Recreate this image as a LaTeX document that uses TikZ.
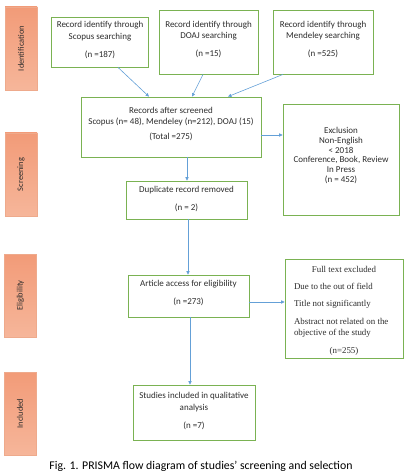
\documentclass[tikz,border=0pt]{standalone}
\usepackage{fontspec}
\setmainfont{Carlito}
\newfontfamily\tnr{Liberation Serif}
\usetikzlibrary{arrows.meta,calc}
\definecolor{boxgreen}{RGB}{122,178,82}
\definecolor{arrblue}{RGB}{100,160,215}
\definecolor{bartop}{RGB}{242,155,120}
\definecolor{barbot}{RGB}{246,182,154}
\definecolor{barline}{RGB}{238,170,140}
\definecolor{txt}{RGB}{45,45,45}
\tikzset{
  box/.style={draw=boxgreen, line width=0.8pt, fill=white, inner sep=0pt},
  btext/.style={inner sep=0pt, align=center, text=txt, font=\fontsize{9}{11.5}\selectfont},
  sidebar/.style={draw=barline, line width=0.4pt, top color=bartop, bottom color=barbot,
    minimum width=32pt, minimum height=83pt, inner sep=0pt},
  barlabel/.style={rotate=90, text=txt, font=\fontsize{8.4}{9}\selectfont},
  arr/.style={draw=arrblue, line width=0.6pt, -{Triangle[length=3.4pt,width=3.2pt]}},
}
\begin{document}
\begin{tikzpicture}[x=1pt,y=-1pt]
\useasboundingbox (0,0) rectangle (405,473);
% side bars
\node[sidebar] (b1) at (21,48.5) {};
\node[barlabel] (l1) at (b1) {Identification};
\node[sidebar] (b2) at (21,174.5) {};
\node[barlabel] (l2) at (b2) {Screening};
\node[sidebar] (b3) at (20.5,295.5) {};
\node[barlabel] (l3) at (b3) {Eligibility};
\node[sidebar] (b4) at (20,413.5) {};
\node[barlabel] (l4) at (b4) {Included};
% boxes
\node[box, minimum width=97pt, minimum height=50pt] (scopus) at (99.5,42) {};
\node[btext] (scopust) at (100,40) {Record identify through\\Scopus searching\\[6.5pt](n =187)};
\node[box, minimum width=99pt, minimum height=64pt] (doaj) at (208.5,42) {};
\node[btext] (doajt) at (208.5,39.5) {Record identify through\\DOAJ searching\\[6.5pt](n =15)};
\node[box, minimum width=100pt, minimum height=64pt] (mend) at (323,42) {};
\node[btext] (mendt) at (323,39.5) {Record identify through\\Mendeley searching\\[6.5pt](n =525)};
\node[box, minimum width=180pt, minimum height=60pt] (rec) at (171,127) {};
\node[btext, font=\fontsize{9}{11}\selectfont] (rect) at (171,124)
  {Records after screened\\Scopus (n= 48), Mendeley (n=212), DOAJ (15)\\[4pt](Total =275)};
\node[box, minimum width=116pt, minimum height=111pt] (excl) at (341,159.5) {};
\node[btext, font=\fontsize{9}{9.9}\selectfont] (exclt) at (341,155.5)
  {Exclusion\\Non-English\\< 2018\\Conference, Book, Review\\In Press\\(n = 452)};
\node[box, minimum width=121pt, minimum height=38pt] (dup) at (186.5,200) {};
\node[btext] (dupt) at (186.5,199) {Duplicate record removed\\[6.5pt](n = 2)};
\node[box, minimum width=121pt, minimum height=42pt] (art) at (188.5,296) {};
\node[btext] (artt) at (188.5,293) {Article access for eligibility\\[6.5pt](n =273)};
\node[box, minimum width=118pt, minimum height=99pt] (full) at (344,308.5) {};
\node[btext, align=left, font=\tnr\fontsize{8.9}{11}\selectfont] (fullt) at (344,311)
  {\makebox[100pt][c]{Full text excluded}\\[6pt]Due to the out of field\\[6pt]Title not significantly\\[6.5pt]Abstract not related on the\\objective of the study\\[7.5pt]\makebox[100pt][c]{(n=255)}};
\node[box, minimum width=122pt, minimum height=55pt] (stud) at (194,412.5) {};
\node[btext] (studt) at (194,411) {Studies included in qualitative\\analysis\\[7pt](n =7)};
% caption
\node[text=black, font=\fontsize{11.8}{13}\selectfont] (cap) at (201,466)
  {Fig. 1. PRISMA flow diagram of studies’ screening and selection};
% arrows
\draw[arr] ([xshift=18.5pt]scopus.south) -- ([xshift=-22pt]rec.north);
\draw[arr] ([xshift=-5.5pt]doaj.south) -- ([xshift=21pt]rec.north);
\draw[arr] ([xshift=-40pt]mend.south) -- ([xshift=57pt]rec.north);
\draw[arr] ([yshift=-8pt]rec.east) -- ([yshift=-8pt]rec.east -| excl.west);
\draw[arr] ([xshift=16pt]rec.south) -- ([xshift=16pt]rec.south |- dup.north);
\draw[arr] ([xshift=1.5pt]dup.south) -- ([xshift=1.5pt]dup.south |- art.north);
\draw[arr] ([yshift=-6pt]art.east) -- ([yshift=-6pt]art.east -| full.west);
\draw[arr] ([xshift=1.5pt]art.south) -- ([xshift=1.5pt]art.south |- stud.north);
\end{tikzpicture}
\end{document}
